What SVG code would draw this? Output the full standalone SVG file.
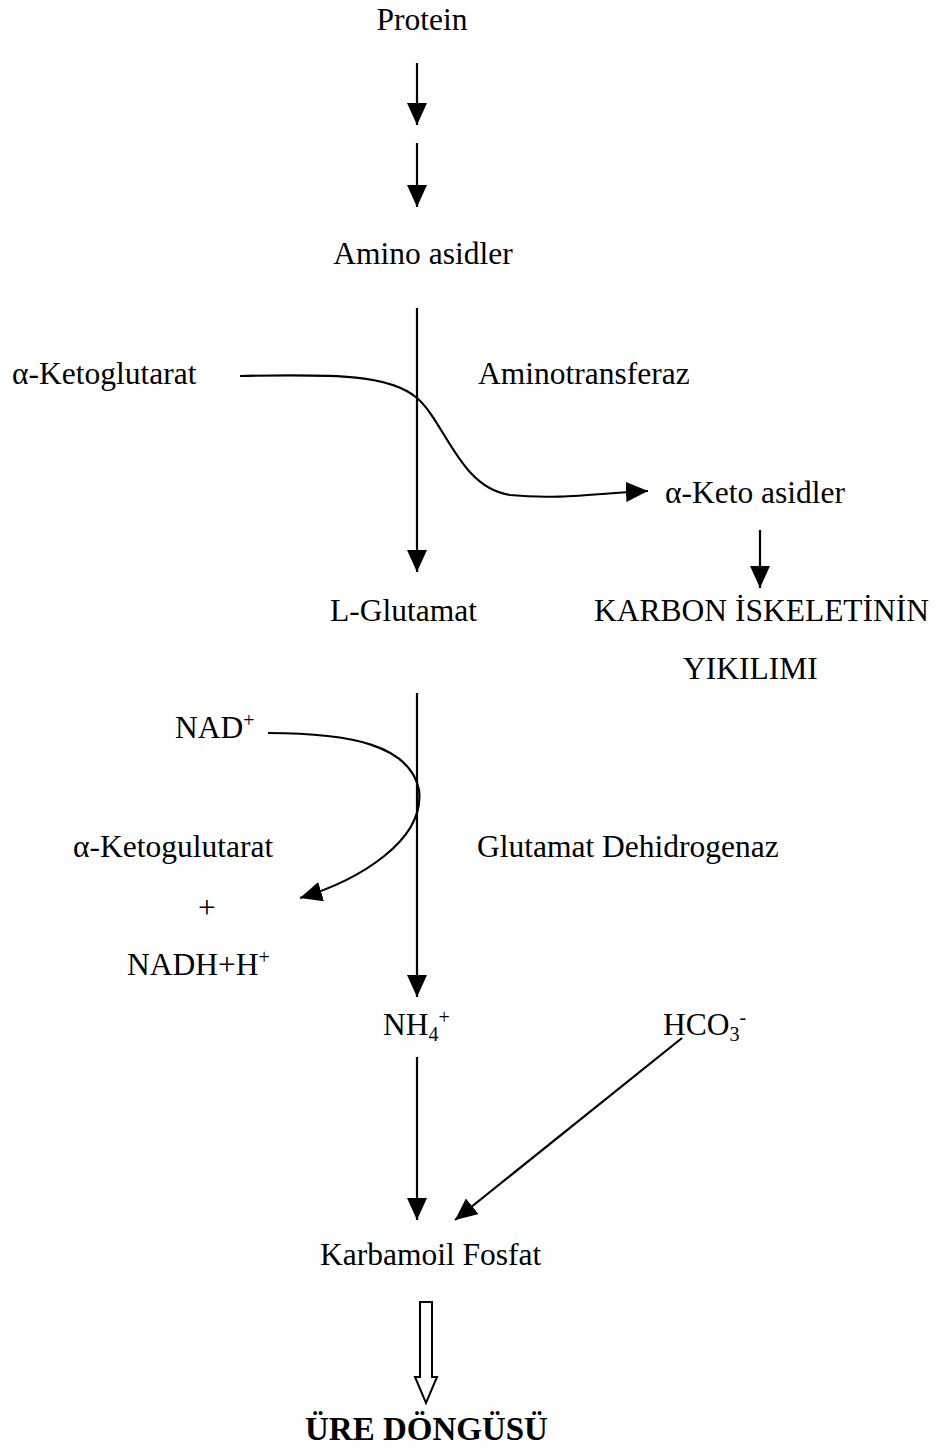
<svg xmlns="http://www.w3.org/2000/svg" width="936" height="1452" viewBox="0 0 936 1452">
<style>
text{font-family:"Liberation Serif","Times New Roman",serif;font-size:31.5px;fill:#000}
.b{font-weight:bold;font-size:33px}
.c{text-anchor:middle}
.sm{font-size:20px}
.ln{fill:none;stroke:#000;stroke-width:2.2}
</style>
<defs>
<marker id="ah" markerUnits="userSpaceOnUse" markerWidth="24" markerHeight="22" refX="22" refY="10" orient="auto">
<path d="M0,0 L22,10 L0,20 Z" fill="#000"/>
</marker>
</defs>
<g id="connectors">
<line class="ln" x1="417" y1="63" x2="417" y2="125" marker-end="url(#ah)"/>
<line class="ln" x1="417" y1="143" x2="417" y2="207" marker-end="url(#ah)"/>
<line class="ln" x1="417" y1="308" x2="417" y2="572" marker-end="url(#ah)"/>
<path class="ln" d="M240,376 C340,374 390,375 417,398 C445,422 460,488 510,495 C560,500 600,493 648,491" marker-end="url(#ah)"/>
<line class="ln" x1="760" y1="530" x2="760" y2="588" marker-end="url(#ah)"/>
<line class="ln" x1="417" y1="693" x2="417" y2="997" marker-end="url(#ah)"/>
<path class="ln" d="M268,733 C350,733 410,745 419,790 C425,840 360,880 300,898" marker-end="url(#ah)"/>
<line class="ln" x1="417" y1="1057" x2="417" y2="1220" marker-end="url(#ah)"/>
<line class="ln" x1="682" y1="1038" x2="455" y2="1220" marker-end="url(#ah)"/>
<path d="M420,1302 L432,1302 L432,1377 L437,1377 L426,1403 L415,1377 L420,1377 Z" fill="#fff" stroke="#000" stroke-width="2"/>
</g>
<g id="protein"><text class="c" x="422" y="30">Protein</text></g>
<g id="amino-asidler"><text class="c" x="423" y="264">Amino asidler</text></g>
<g id="a-ketoglutarat"><text x="12" y="384">α-Ketoglutarat</text></g>
<g id="aminotransferaz"><text x="478" y="384">Aminotransferaz</text></g>
<g id="a-keto-asidler"><text x="665" y="503">α-Keto asidler</text></g>
<g id="l-glutamat"><text x="330" y="621">L-Glutamat</text></g>
<g id="karbon"><text x="594" y="621">KARBON İSKELETİNİN</text><text x="683" y="679">YIKILIMI</text></g>
<g id="nad"><text x="175" y="738">NAD<tspan class="sm" dy="-11">+</tspan></text></g>
<g id="a-ketogulutarat"><text x="73" y="857">α-Ketogulutarat</text></g>
<g id="plus"><text class="c" x="207" y="918">+</text></g>
<g id="nadh"><text x="127" y="975">NADH+H<tspan class="sm" dy="-11">+</tspan></text></g>
<g id="gdh"><text x="477" y="857">Glutamat Dehidrogenaz</text></g>
<g id="nh4"><text x="383" y="1035">NH<tspan class="sm" dy="6">4</tspan><tspan class="sm" dy="-17">+</tspan></text></g>
<g id="hco3"><text x="663" y="1035">HCO<tspan class="sm" dy="6">3</tspan><tspan class="sm" dy="-17">-</tspan></text></g>
<g id="karbamoil-fosfat"><text x="320" y="1265">Karbamoil Fosfat</text></g>
<g id="ure-dongusu"><text class="b" x="305" y="1440">ÜRE DÖNGÜSÜ</text></g>
</svg>
